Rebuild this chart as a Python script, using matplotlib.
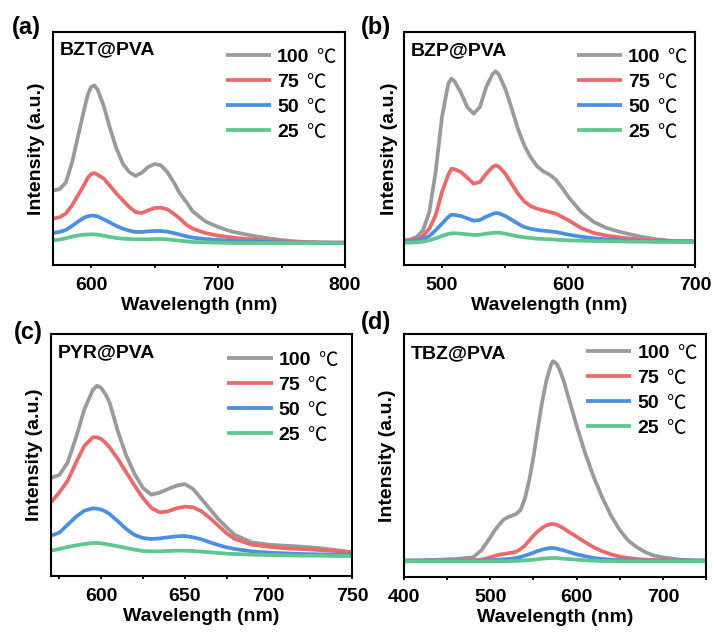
import matplotlib
matplotlib.use('Agg')
import matplotlib.pyplot as plt
from matplotlib.ticker import MultipleLocator
from matplotlib.font_manager import FontProperties

plt.rcParams['font.family'] = ['Liberation Sans', 'Noto Sans CJK SC', 'DejaVu Sans']
plt.rcParams['font.weight'] = 'bold'
plt.rcParams['axes.labelweight'] = 'bold'

# ---------------- data ----------------
temps = ['100', '75', '50', '25']
colors = ['#9A9A9A', '#EA6A6B', '#4B8FE3', '#5DC78E']
panel_tags = ['(a)', '(b)', '(c)', '(d)']
samples = ['BZT@PVA', 'BZP@PVA', 'PYR@PVA', 'TBZ@PVA']

wl_a = [570, 575, 580, 585, 590, 595, 597.5, 600, 602.5, 605, 610, 615, 620, 625, 630, 635, 640, 645,
        650, 655, 660, 665, 670, 675, 680, 690, 700, 710, 720, 730, 740, 750, 760, 770, 780, 790, 800]
a_100 = [1.57, 1.60, 1.80, 2.40, 3.24, 4.07, 4.45, 4.67, 4.72, 4.60, 4.10, 3.42, 2.82, 2.37, 2.12, 2.00,
         2.10, 2.27, 2.36, 2.32, 2.12, 1.82, 1.47, 1.22, 0.94, 0.64, 0.47, 0.34, 0.26, 0.19, 0.13, 0.08,
         0.04, 0.02, 0.01, 0.00, 0.00]
a_75 = [0.72, 0.76, 0.87, 1.12, 1.44, 1.77, 1.95, 2.06, 2.09, 2.04, 1.92, 1.70, 1.47, 1.27, 1.07, 0.92,
        0.89, 0.97, 1.04, 1.05, 1.00, 0.87, 0.72, 0.54, 0.42, 0.29, 0.21, 0.16, 0.12, 0.09, 0.06, 0.04,
        0.02, 0.01, 0.00, 0.00, 0.00]
a_50 = [0.29, 0.32, 0.38, 0.50, 0.64, 0.76, 0.79, 0.81, 0.81, 0.79, 0.70, 0.60, 0.50, 0.42, 0.36, 0.32,
        0.32, 0.34, 0.35, 0.35, 0.33, 0.29, 0.24, 0.19, 0.15, 0.11, 0.08, 0.06, 0.04, 0.03, 0.02, 0.01,
        0.00, 0.00, 0.00, 0.00, 0.00]
a_25 = [0.07, 0.09, 0.13, 0.18, 0.22, 0.24, 0.245, 0.25, 0.25, 0.24, 0.21, 0.17, 0.14, 0.12, 0.11, 0.10,
        0.10, 0.10, 0.11, 0.11, 0.10, 0.08, 0.06, 0.04, 0.02, 0.01, 0.00, -0.01, -0.01, -0.01, -0.01,
        -0.01, -0.01, -0.01, -0.01, -0.01, -0.01]

wl_b = [470, 475, 480, 485, 490, 495, 500, 505, 507.5, 510, 515, 520, 525, 530, 535, 540, 542.5, 545,
        550, 555, 560, 565, 570, 575, 580, 585, 590, 595, 600, 610, 620, 630, 640, 650, 660, 670, 680,
        690, 700]
b_100 = [0.03, 0.06, 0.13, 0.33, 0.88, 2.08, 3.73, 4.73, 4.88, 4.80, 4.46, 4.03, 3.83, 4.03, 4.63, 5.02,
         5.10, 5.00, 4.58, 4.00, 3.38, 2.88, 2.53, 2.26, 2.10, 2.00, 1.85, 1.60, 1.33, 0.88, 0.58, 0.40,
         0.29, 0.20, 0.12, 0.06, 0.02, 0.00, 0.00]
b_75 = [0.01, 0.03, 0.06, 0.16, 0.38, 0.78, 1.48, 2.00, 2.18, 2.16, 2.08, 1.91, 1.73, 1.78, 2.03, 2.23,
        2.28, 2.24, 2.03, 1.73, 1.43, 1.20, 1.06, 0.98, 0.93, 0.88, 0.83, 0.73, 0.63, 0.40, 0.25, 0.17,
        0.12, 0.08, 0.05, 0.03, 0.01, 0.00, 0.00]
b_50 = [0.00, 0.01, 0.03, 0.07, 0.16, 0.33, 0.53, 0.73, 0.80, 0.79, 0.76, 0.69, 0.62, 0.64, 0.74, 0.82,
        0.85, 0.84, 0.76, 0.65, 0.53, 0.43, 0.38, 0.34, 0.32, 0.30, 0.28, 0.24, 0.20, 0.14, 0.09, 0.06,
        0.04, 0.02, 0.01, 0.00, 0.00, 0.00, 0.00]
b_25 = [-0.04, -0.04, -0.03, -0.01, 0.03, 0.09, 0.16, 0.22, 0.24, 0.24, 0.23, 0.21, 0.19, 0.20, 0.23,
        0.25, 0.26, 0.26, 0.23, 0.19, 0.15, 0.12, 0.10, 0.08, 0.07, 0.06, 0.05, 0.04, 0.03, 0.02, 0.01,
        0.00, 0.00, -0.01, -0.01, -0.02, -0.02, -0.02, -0.02]

wl_c = [570, 575, 580, 585, 590, 595, 597.5, 600, 602.5, 605, 610, 615, 620, 625, 630, 635, 640, 645,
        650, 655, 660, 665, 670, 675, 680, 690, 700, 710, 720, 730, 740, 750]
c_100 = [2.30, 2.39, 2.77, 3.52, 4.37, 4.94, 5.07, 5.00, 4.82, 4.57, 3.70, 2.97, 2.42, 2.00, 1.80, 1.86,
         1.97, 2.07, 2.12, 1.97, 1.67, 1.37, 1.07, 0.82, 0.59, 0.37, 0.30, 0.27, 0.24, 0.20, 0.14, 0.07]
c_75 = [1.57, 1.87, 2.22, 2.77, 3.27, 3.52, 3.52, 3.47, 3.36, 3.22, 2.87, 2.47, 2.07, 1.70, 1.40, 1.27,
        1.30, 1.39, 1.44, 1.42, 1.30, 1.10, 0.87, 0.64, 0.47, 0.30, 0.24, 0.19, 0.17, 0.14, 0.11, 0.07]
c_50 = [0.57, 0.66, 0.90, 1.14, 1.32, 1.39, 1.38, 1.35, 1.30, 1.22, 1.00, 0.77, 0.59, 0.50, 0.47, 0.49,
        0.52, 0.55, 0.56, 0.52, 0.46, 0.37, 0.29, 0.22, 0.17, 0.10, 0.06, 0.04, 0.02, 0.01, 0.00, 0.00]
c_25 = [0.12, 0.17, 0.23, 0.28, 0.32, 0.35, 0.35, 0.34, 0.32, 0.30, 0.25, 0.20, 0.15, 0.11, 0.10, 0.10,
        0.11, 0.12, 0.12, 0.11, 0.09, 0.07, 0.05, 0.03, 0.02, 0.00, -0.01, -0.02, -0.03, -0.03, -0.04,
        -0.04]

wl_d = [400, 420, 440, 460, 480, 490, 500, 505, 510, 515, 520, 525, 530, 535, 540, 545, 550, 555, 560,
        565, 570, 572.5, 575, 577.5, 580, 585, 590, 595, 600, 610, 620, 630, 640, 650, 660, 670, 680,
        690, 700, 720, 750]
d_100 = [0.00, 0.01, 0.03, 0.05, 0.10, 0.32, 0.70, 0.90, 1.07, 1.22, 1.30, 1.35, 1.40, 1.52, 1.85, 2.40,
         3.10, 3.95, 4.75, 5.40, 5.85, 5.98, 5.95, 5.88, 5.75, 5.40, 4.95, 4.50, 4.05, 3.22, 2.50, 1.88,
         1.35, 0.92, 0.60, 0.40, 0.25, 0.15, 0.10, 0.03, 0.00]
d_75 = [0.00, 0.00, 0.00, 0.00, 0.01, 0.03, 0.10, 0.14, 0.18, 0.20, 0.22, 0.24, 0.27, 0.35, 0.45, 0.60,
        0.75, 0.88, 0.98, 1.06, 1.10, 1.10, 1.09, 1.07, 1.04, 0.97, 0.88, 0.80, 0.72, 0.55, 0.40, 0.28,
        0.19, 0.12, 0.08, 0.05, 0.03, 0.02, 0.01, 0.00, 0.00]
d_50 = [0.00, 0.00, 0.00, 0.00, 0.00, 0.00, 0.01, 0.02, 0.03, 0.04, 0.05, 0.06, 0.08, 0.11, 0.15, 0.19,
        0.24, 0.29, 0.33, 0.36, 0.38, 0.38, 0.37, 0.36, 0.34, 0.31, 0.27, 0.23, 0.19, 0.13, 0.08, 0.05,
        0.03, 0.02, 0.01, 0.01, 0.00, 0.00, 0.00, 0.00, 0.00]
d_25 = [-0.02, -0.02, -0.02, -0.02, -0.02, -0.02, -0.02, -0.02, -0.02, -0.02, -0.02, -0.01, -0.01, 0.00,
        0.01, 0.02, 0.03, 0.04, 0.06, 0.07, 0.08, 0.08, 0.08, 0.08, 0.07, 0.06, 0.05, 0.04, 0.03, 0.01,
        0.00, -0.01, -0.01, -0.02, -0.02, -0.02, -0.02, -0.02, -0.02, -0.02, -0.02]

xlims = [(570, 800), (470, 700), (570, 750), (400, 750)]
ylims = [(-0.67, 6.32), (-0.71, 6.28), (-0.64, 6.62), (-0.49, 6.80)]
xmajor = [100, 100, 50, 100]

panels = [
    (wl_a, [a_100, a_75, a_50, a_25]),
    (wl_b, [b_100, b_75, b_50, b_25]),
    (wl_c, [c_100, c_75, c_50, c_25]),
    (wl_d, [d_100, d_75, d_50, d_25]),
]

# ---------------- layout ----------------
W, H = 714, 632
fig = plt.figure(figsize=(W / 100, H / 100), dpi=100)

# axes boxes in pixels: left, top, right, bottom
boxes = [(53, 32, 345, 265), (404, 32, 695, 265), (51, 334, 352, 576), (404, 334, 706, 577)]
legend_anchor = [(0.591, 0.929), (0.593, 0.929), (0.585, 0.927), (0.602, 0.956)]
title_y = [0.906, 0.900, 0.905, 0.900]
tag_pos = [(12, 16), (361, 16), (14, 321), (361, 311)]
ylabelpad = [6, 4.5, 6, 6]

fs = 14
for i, (wl, series) in enumerate(panels):
    l, t, r, b = boxes[i]
    ax = fig.add_axes([l / W, 1 - b / H, (r - l) / W, (b - t) / H])
    handles = []
    for vals, col, lab in zip(series, colors, temps):
        ln, = ax.plot(wl, vals, color=col, lw=2.7, label=lab, solid_capstyle='butt',
                      solid_joinstyle='round')
        handles.append(ln)
    ax.set_xlim(*xlims[i])
    ax.set_ylim(*ylims[i])
    ax.set_yticks([])
    ax.xaxis.set_major_locator(MultipleLocator(xmajor[i]))
    ax.xaxis.set_minor_locator(MultipleLocator(xmajor[i] / 2))
    ax.tick_params(axis='x', which='both', direction='out', length=2.5, width=1.3, pad=6.2,
                   labelsize=fs)
    for tl in ax.get_xticklabels():
        tl.set_fontweight('bold')
    for sp in ax.spines.values():
        sp.set_linewidth(1.5)
    ax.set_xlabel('Wavelength (nm)', fontsize=fs, fontweight='bold', labelpad=2)
    ax.set_ylabel('Intensity (a.u.)', fontsize=fs, fontweight='bold', labelpad=ylabelpad[i])
    ax.text(7 / (r - l), title_y[i], samples[i], transform=ax.transAxes, fontsize=fs,
            fontweight='bold', ha='left', va='baseline')
    leg = ax.legend(handles, temps, loc='upper left', bbox_to_anchor=legend_anchor[i],
                    frameon=False, borderpad=0, borderaxespad=0, handlelength=2.35,
                    handletextpad=0.3, labelspacing=0.37,
                    prop=FontProperties(family='Liberation Sans', weight='bold', size=fs))
    for txt in leg.get_texts():
        ax.annotate('\u2103', xy=(1, 0.5), xycoords=txt, xytext=(5, 0),
                    textcoords='offset points', ha='left', va='center', fontsize=fs,
                    fontweight='normal', family=['Noto Sans CJK SC', 'DejaVu Sans'],
                    zorder=10)
    tx, ty = tag_pos[i]
    fig.text(tx / W, 1 - ty / H, panel_tags[i], fontsize=17, fontweight='bold',
             ha='left', va='top')

fig.savefig('out.png', dpi=100, facecolor='white')
